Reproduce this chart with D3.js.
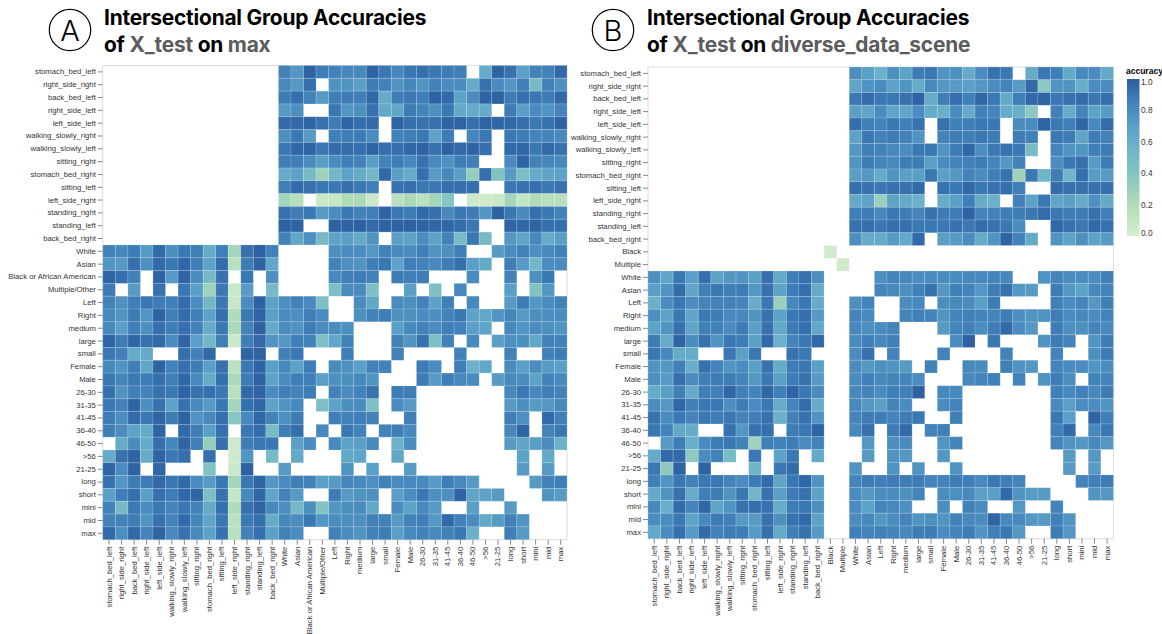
<!DOCTYPE html>
<html><head><meta charset="utf-8">
<script src="https://cdn.jsdelivr.net/npm/d3@7"></script>
<style>
html,body{margin:0;padding:0;background:#fff;overflow:hidden}
svg{display:block}
.axis text{font-family:"Liberation Sans",Arial,sans-serif;font-size:7.7px;fill:#333}
.axis line{stroke:#888}
.axis path{display:none}
</style></head><body>
<script>
const _ = null;
const labelsA = ["stomach_bed_left","right_side_right","back_bed_left","right_side_left","left_side_left","walking_slowly_right","walking_slowly_left","sitting_right","stomach_bed_right","sitting_left","left_side_right","standing_right","standing_left","back_bed_right","White","Asian","Black or African American","Multiple/Other","Left","Right","medium","large","small","Female","Male","26-30","31-35","41-45","36-40","46-50",">56","21-25","long","short","mini","mid","max"];
const labelsB = ["stomach_bed_left","right_side_right","back_bed_left","right_side_left","left_side_left","walking_slowly_right","walking_slowly_left","sitting_right","stomach_bed_right","sitting_left","left_side_right","standing_right","standing_left","back_bed_right","Black","Multiple","White","Asian","Left","Right","medium","large","small","Female","Male","26-30","31-35","41-45","36-40","46-50",">56","21-25","long","short","mini","mid","max"];

// Upper triangle of panel A: the first 14 rows start at column 14, others right after the diagonal.
const upperA = [
[.85,.75,.97,.88,.85,.82,.82,.97,.9,.82,.9,.93,.9,.88,.87,_,.62,.97,.92,.7,.85,.85,.95],
[.82,.73,.93,_,.77,.76,.7,.88,.85,.76,.83,.76,.85,.8,.8,.62,.92,.8,.75,.87,.5,.85,.78],
[.88,.93,.85,.72,.87,.88,.87,.96,.62,.87,.9,.86,.97,.95,.68,.8,.97,.97,.88,.93,.9,.88,.95],
[.72,.78,_,_,.9,.75,.78,.92,.63,.65,.88,.84,.78,.9,.63,.63,.62,_,.88,.7,.8,.76,.84],
[.95,.95,.97,.92,.88,.97,.93,.95,_,.97,.93,.92,.92,.97,.97,.93,.97,.96,.95,.93,.9,.92,.97],
[.78,.9,.72,_,.86,.87,.88,.8,_,.85,.87,.9,.68,.88,_,.83,.9,_,.9,.88,.84,.84,.82],
[.9,.96,.97,.9,.94,.94,.93,.97,.93,.93,.96,.97,.92,.98,.95,.97,.93,_,.95,.96,.9,.95,.92],
[.87,.87,.8,.7,.8,.87,.85,.7,.85,.88,.82,.92,.82,.77,.88,.87,_,_,.8,.97,.85,.83,.82],
[.62,.68,.5,.28,.52,.68,.62,.52,.95,.7,.62,.93,.72,.82,.7,.32,.93,.42,.72,.46,.63,.66,.68],
[.87,.94,.92,.9,.9,.93,.9,.87,_,.92,.93,.9,.9,.93,.93,.93,_,_,.9,.92,.93,.9,.92],
[.25,.16,_,.07,.08,.2,.22,.06,_,.14,.22,.15,.25,.38,_,.05,.04,.06,.25,.09,.2,.15,.15],
[.92,.88,.9,.72,.8,.9,.85,.87,.97,.9,.88,.95,.93,.82,.9,.88,.75,.98,.9,.82,.93,.9,.85],
[.98,.97,_,_,.98,.97,.98,.95,.97,.97,.98,.97,.96,.96,.94,.9,_,_,.97,.96,.97,.93,.93],
[.85,.65,.78,.5,.68,.7,.63,.76,_,.7,.68,.8,.68,.85,.48,.9,.5,_,.74,.66,.82,.62,.7],
[_,_,_,.78,.8,.8,.74,.85,.82,.8,.87,.76,.78,.87,_,_,.72,.8,.85,.78,.82,.85],
[_,_,.85,.78,.76,.87,.9,.68,.87,.85,.82,.88,.93,.7,.64,_,.87,.72,.52,.8,.8],
[_,.82,.87,.88,.85,_,.88,.87,.88,_,_,_,.8,_,_,.85,_,.78,.9,_],
[.45,.8,.8,.45,_,_,.7,_,.45,_,.82,_,_,_,.7,_,.42,.75,_],
[_,.8,.65,_,.8,.78,.85,.68,.87,_,.82,_,_,.72,.88,.75,.8,.85],
[.78,.85,.87,.77,.78,.8,.78,.85,.9,.68,.65,.76,.83,.72,.78,.78,.8],
[_,_,.7,.82,.85,.8,.87,.85,.7,.66,_,.82,.76,.8,.78,.76],
[_,.85,.76,.92,.45,.85,_,.82,_,.7,.78,.78,.65,.85,.85],
[.85,_,_,_,_,.85,_,_,_,.85,_,_,.85,.88],
[_,.88,.8,_,.87,.58,.65,_,.8,.7,.8,.72,.7],
[.88,.72,.87,.82,.8,_,.72,.82,.8,.68,.85,.82],
[_,_,_,_,_,_,.82,.9,.82,.87,.85],
[_,_,_,_,_,.72,.78,.72,.74,.82],
[_,_,_,_,.87,.78,_,.95,.86],
[_,_,_,.82,.97,_,.85,.9],
[_,_,.72,.66,.7,.8,.58],
[_,_,.68,_,.64,_],
[_,.72,_,.72,_],
[_,.72,.85,.87],
[_,.76,.72],
[_,_],
[_],
[]
];

// Upper triangle of panel B, same layout.
const upperB = [
[_,_,.78,.7,.58,.78,.68,.88,.9,.76,.78,.62,.8,.92,.9,_,.62,.9,.86,.64,.82,.8,.64],
[_,_,.66,.76,.8,.68,.76,.62,.82,.74,.72,.7,.74,.8,.84,.72,.95,.36,.76,.76,.6,.8,.8],
[_,_,.9,.94,.9,.9,.92,.97,.62,.86,.93,.86,.96,.9,.64,.87,.95,.97,.9,.92,.94,.9,.93],
[_,_,.7,.66,.8,.66,.66,.8,.62,.6,.8,.62,.86,.84,.62,.6,.36,_,.85,.62,.84,.68,.72],
[_,_,.93,.86,.84,.9,.86,.92,_,.92,.86,.87,.9,.9,_,.8,.8,.97,.9,.86,.96,.82,.94],
[_,_,.68,.9,.85,.88,.85,.76,_,.84,.88,.86,.9,.88,_,.88,.85,_,.9,.88,.66,.88,.85],
[_,_,.74,.87,.85,.82,.8,.9,.9,.76,.88,.96,.78,.9,.92,.9,.48,_,.84,.76,.76,.86,.88],
[_,_,.76,.88,.84,.82,.88,.88,.7,.8,.84,.86,.88,.84,.74,.85,_,_,.8,.9,.92,.72,.88],
[_,_,.7,.74,.62,.76,.7,.7,.9,.7,.74,.84,.8,.87,.92,.28,.9,.55,.88,.54,.93,.72,.72],
[_,_,.93,.92,.9,.92,.92,.95,_,.92,.9,.96,.9,.92,.93,.86,_,_,.94,.92,.92,.92,.93],
[_,_,.64,.68,.3,.68,.64,.58,_,.62,.7,.86,.62,.58,_,.85,.68,.9,.66,.7,.62,.78,.64],
[_,_,.86,.88,.82,.9,.88,.84,.92,.88,.88,.97,.84,.85,.88,.88,.9,.94,.9,.88,.88,.92,.86],
[_,_,.92,.93,.9,.93,.93,.9,.9,.9,.92,.9,.94,.92,.9,.8,_,_,.96,.92,.9,.95,.92],
[_,_,.78,.62,.62,.72,.64,.95,_,.7,.72,.8,.62,.76,.97,.85,.64,_,.76,.68,.78,.68,.72],
[],
[],
[_,.78,.84,.82,.8,.8,.8,.8,.82,.82,.84,.82,_,_,.76,.84,.8,.8,.8,.86],
[.84,.82,.78,.86,.92,.74,.86,.84,.74,.88,.92,.74,.72,_,.88,.74,.68,.82,.84],
[_,.8,.82,_,.78,.82,.8,.7,.88,_,_,_,_,.86,.8,.84,.74,.86],
[.84,.86,.84,.76,.84,.86,.84,.84,.88,.78,.76,.76,.88,.8,.82,.8,.84],
[_,_,.72,.84,.86,.8,.88,.95,.8,.74,_,.88,.78,.78,.84,.82],
[_,_,.8,.98,_,.9,_,_,_,.76,.88,.84,_,.76,.88],
[.85,_,_,_,_,.85,_,_,_,.84,_,_,.78,.88],
[_,.82,.8,_,.86,.76,.74,_,.84,.8,.8,.76,.8],
[.82,.84,.86,_,.84,_,.76,.88,.78,_,.85,.84],
[_,_,_,_,_,_,.86,.82,.85,.82,.88],
[_,_,_,_,_,.82,.7,.8,.8,.76],
[_,_,_,_,.9,.7,_,.97,.86],
[_,_,_,.86,.95,_,.82,.9],
[_,_,.84,.76,.74,.82,.74],
[_,_,.72,_,.74,_],
[_,.72,_,.72,_],
[_,.84,.86,.88],
[_,.76,.74],
[_,_],
[_],
[]
];
const diagonalB = [["Black",.03],["Multiple",.03]];

const colorStops = [0,.2,.4,.6,.7,.8,.9,1];
const colorRange = ["#d6eed0","#b0dcb8","#84c4c2","#69afca","#5a9fc6","#4a8cbf","#3a78b3","#2a5b9e"];
const legendTicks = [0,.2,.4,.6,.8,1];

const color = d3.scaleLinear().domain(colorStops).range(colorRange).clamp(true);
const svg = d3.select("body").append("svg").attr("width",1162).attr("height",634);

function expand(labels, upper, diagonal){
  const cells=[];
  upper.forEach((vals,i)=>{
    const start = i<14 ? 14 : i+1;
    vals.forEach((v,k)=>{
      if(v===null) return;
      const j=start+k;
      cells.push({r:labels[i],c:labels[j],v});
      cells.push({r:labels[j],c:labels[i],v});
    });
  });
  diagonal.forEach(([n,v])=>cells.push({r:n,c:n,v}));
  return cells;
}

function panel(labels, cells, box){
  const x=d3.scaleBand().domain(labels).range([box.x0,box.x1]);
  const y=d3.scaleBand().domain(labels).range([box.y0,box.y1]);
  const g=svg.append("g");
  g.append("rect").attr("x",box.x0).attr("y",box.y0).attr("width",box.x1-box.x0).attr("height",box.y1-box.y0)
    .attr("fill","#fff").attr("stroke","#ddd").attr("stroke-width",1);
  g.append("g").selectAll("rect").data(cells).join("rect")
    .attr("x",d=>x(d.c)).attr("y",d=>y(d.r)).attr("width",x.bandwidth()).attr("height",y.bandwidth())
    .attr("fill",d=>color(d.v)).attr("stroke","#fff").attr("stroke-opacity",.15).attr("stroke-width",1);
  g.append("g").attr("class","axis").attr("transform",`translate(${box.x0},0)`)
    .call(d3.axisLeft(y).tickSize(5).tickPadding(2));
  const bx=g.append("g").attr("class","axis").attr("transform",`translate(0,${box.y1})`)
    .call(d3.axisBottom(x).tickSize(5).tickPadding(2));
  bx.selectAll("text").attr("transform","rotate(-90)").attr("text-anchor","end")
    .attr("x",-7).attr("y",0).attr("dy","0.32em");
}

function title(cx,tx,letter,scene){
  const g=svg.append("g");
  g.append("circle").attr("cx",cx).attr("cy",30).attr("r",20.7).attr("fill","none").attr("stroke","#000").attr("stroke-width",1.2);
  g.append("text").attr("x",cx).attr("y",40.5).attr("text-anchor","middle")
    .attr("font-family","Inter,sans-serif").attr("font-weight",300).attr("font-size",29).text(letter);
  const f=s=>s.attr("font-family","Inter,sans-serif").attr("font-weight",700).attr("font-size",20.9).attr("letter-spacing","-0.2px");
  g.append("text").call(f).attr("x",tx).attr("y",25).attr("fill","#000").text("Intersectional Group Accuracies");
  const t=g.append("text").call(f).attr("x",tx).attr("y",52).attr("fill","#000");
  t.append("tspan").text("of ");
  t.append("tspan").attr("fill","#5c5c5c").text("X_test");
  t.append("tspan").text(" on ");
  t.append("tspan").attr("fill","#5c5c5c").text(scene);
}

title(70,104,"A","max");
title(613,647,"B","diverse_data_scene");
panel(labelsA, expand(labelsA,upperA,[]), {x0:102.8,x1:567,y0:65.5,y1:539.7});
panel(labelsB, expand(labelsB,upperB,diagonalB), {x0:648,x1:1113.4,y0:67,y1:538.7});

// legend
const grad=svg.append("defs").append("linearGradient").attr("id","lg").attr("x1",0).attr("x2",0).attr("y1",1).attr("y2",0);
grad.selectAll("stop").data(colorStops).join("stop").attr("offset",d=>d).attr("stop-color",d=>color(d));
const ly=d3.scaleLinear().domain([0,1]).range([236,79]);
svg.append("text").attr("x",1126).attr("y",74).attr("font-family","Liberation Sans,Arial,sans-serif").attr("font-weight",700).attr("font-size",8.5).attr("fill","#000").text("accuracy");
svg.append("rect").attr("x",1127).attr("y",ly(1)).attr("width",12.5).attr("height",ly(0)-ly(1)).attr("fill","url(#lg)");
svg.append("g").selectAll("text").data(legendTicks).join("text")
  .attr("x",1141).attr("y",d=>ly(d)).attr("dy",d=>d===1?"0.75em":d===0?"-0.05em":"0.35em")
  .attr("font-family","Liberation Sans,Arial,sans-serif").attr("font-size",8.3).attr("fill","#333")
  .text(d3.format(".1f"));
</script>
</body></html>
